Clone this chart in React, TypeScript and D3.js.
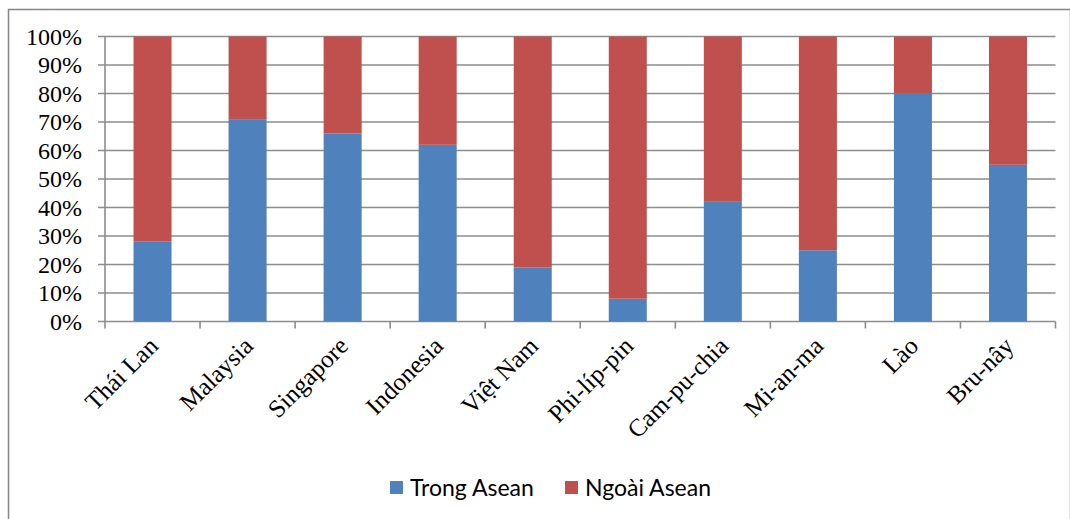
import React from "react";
import * as d3 from "d3";

// share of trade, percent
const countries = ["Thái Lan", "Malaysia", "Singapore", "Indonesia", "Việt Nam", "Phi-líp-pin", "Cam-pu-chia", "Mi-an-ma", "Lào", "Bru-nây"];
const trongAsean = [28, 71, 66, 62, 19, 8, 42, 25, 80, 55];
const ngoaiAsean = trongAsean.map((v) => 100 - v);
const seriesNames = ["Trong Asean", "Ngoài Asean"];
const seriesColors = ["#4F81BD", "#C0504D"];
const yTicks = [0, 10, 20, 30, 40, 50, 60, 70, 80, 90, 100];

const W = 1070, H = 519;
const margin = { top: 36.5, right: 14.5, bottom: 197.5, left: 105 };

export default function App() {
  const w = W - margin.left - margin.right;
  const h = H - margin.top - margin.bottom;

  const x = d3.scaleBand().domain(countries).range([0, w]).paddingInner(0.6).paddingOuter(0.3);
  const y = d3.scaleLinear().domain([0, 100]).range([h, 0]);

  const rows = countries.map((c, i) => ({ c, trong: trongAsean[i], ngoai: ngoaiAsean[i] }));
  const stacked = d3.stack<any>().keys(["trong", "ngoai"])(rows);

  const step = x.step();
  const serif = "'Liberation Serif', 'Times New Roman', serif";

  return (
    <svg width={W} height={H} style={{ position: "absolute", left: 0, top: 0, background: "#fff" }}>
      <rect x={8.5} y={9.5} width={1062} height={520} fill="none" stroke="#868686" strokeWidth={1.5} />
      <g transform={`translate(${margin.left},${margin.top})`}>
        {yTicks.map((t) => (
          <g key={t} transform={`translate(0,${y(t)})`}>
            <line x1={-7} x2={w} stroke="#8c8c8c" strokeWidth={1.6} />
            <text x={-23} dy="0.34em" textAnchor="end" fontFamily={serif} fontSize={24} fill="#000">{t}%</text>
          </g>
        ))}
        {stacked.map((s, si) => (
          <g key={s.key} fill={seriesColors[si]}>
            {s.map((d, i) => (
              <rect key={i} x={x(countries[i])} y={y(d[1])} width={x.bandwidth()} height={y(d[0]) - y(d[1])} />
            ))}
          </g>
        ))}
        <line x1={0} x2={0} y1={0} y2={h} stroke="#8c8c8c" strokeWidth={1.6} />
        {d3.range(countries.length + 1).map((i) => (
          <line key={i} x1={i * step} x2={i * step} y1={h} y2={h + 7} stroke="#8c8c8c" strokeWidth={1.6} />
        ))}
        {countries.map((c) => {
          const cx = (x(c) as number) + x.bandwidth() / 2;
          return (
            <text key={c} transform={`translate(${cx + 7},${h + 26}) rotate(-45)`} textAnchor="end"
              fontFamily={serif} fontSize={25} fill="#000">{c}</text>
          );
        })}
      </g>
      <g transform="translate(390,481)">
        {seriesNames.map((n, i) => (
          <g key={n} transform={`translate(${i * 175},0)`}>
            <rect width={13} height={13} fill={seriesColors[i]} />
            <text x={20} y={14.5} fontFamily="Lato, 'Open Sans', sans-serif" fontSize={23} fill="#000">{n}</text>
          </g>
        ))}
      </g>
    </svg>
  );
}
